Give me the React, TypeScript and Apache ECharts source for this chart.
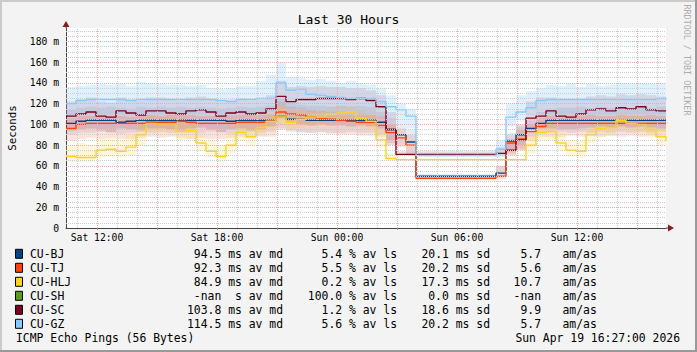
import React, { useEffect, useRef } from 'react';
import * as echarts from 'echarts';

// time grid in hours since Sat 00:00 (Sat 10:27 -> Sun 16:27), half-hour samples
const startHour = 10.45;
const stepHours = 0.5;
const sampleCount = 61;
const endHour = 40.45;

const seriesNames = ['CU-BJ', 'CU-TJ', 'CU-HLJ', 'CU-SH', 'CU-SC', 'CU-GZ'];
const seriesColors = ['#004586', '#ff420e', '#ffd320', '#579d1c', '#7e0021', '#83caff'];

// medians (ms)
const bjMedian = [
  101, 103, 104, 104, 104, 102, 103, 104, 104, 104,
  104, 104, 104, 104, 104, 104, 103, 104, 104, 104,
  104, 108, 105, 105, 104, 104, 104, 104, 104, 104,
  104, 102, 95, 90, 83, 50, 50, 50, 50, 50,
  50, 50, 50, 53, 84, 90, 96, 101, 104, 104,
  104, 104, 104, 104, 104, 104, 104, 104, 104, 104, 104,
];
const tjMedian = [
  96, 100, 101, 101, 101, 101, 101, 101, 102, 102,
  102, 103, 102, 101, 101, 101, 101, 102, 102, 102,
  103, 112, 110, 109, 107, 106, 105, 104, 103, 102,
  102, 99, 92, 87, 80, 48, 48, 48, 48, 48,
  48, 48, 48, 50, 82, 86, 93, 98, 101, 101,
  101, 101, 101, 101, 101, 101, 101, 101, 101, 101, 101,
];
const hljMedian = [
  69, 68, 68, 75, 76, 74, 78, 90, 101, 100,
  100, 93, 94, 82, 74, 69, 80, 92, 88, 97,
  103, 108, 102, 105, 107, 107, 110, 111, 112, 106,
  103, 85, 67, 66, 66, 66, 66, 66, 66, 66,
  66, 66, 66, 66, 66, 66, 80, 92, 93, 82,
  75, 74, 90, 96, 97, 104, 101, 100, 95, 88, 84,
];
const scMedian = [
  108, 110, 112, 108, 107, 113, 111, 109, 113, 113,
  111, 110, 113, 114, 112, 108, 111, 112, 110, 111,
  115, 127, 122, 124, 124, 125, 125, 125, 124, 125,
  123, 117, 95, 71, 71, 71, 71, 71, 71, 71,
  71, 71, 71, 72, 75, 85, 106, 108, 113, 108,
  107, 110, 114, 115, 113, 116, 115, 117, 114, 113, 113,
];
const gzMedian = [
  120, 123, 124, 124, 124, 124, 123, 124, 124, 124,
  124, 124, 124, 124, 124, 123, 122, 124, 124, 125,
  125, 140, 133, 134, 129, 128, 127, 126, 125, 125,
  125, 122, 117, 114, 108, 70, 70, 70, 70, 70,
  70, 70, 70, 76, 107, 112, 116, 123, 124, 124,
  124, 124, 124, 124, 124, 124, 124, 124, 124, 125, 124,
];

// smoke (spread of pings), low and high edges (ms)
const bjLow = [
  90, 92, 92, 93, 92, 91, 92, 93, 92, 93,
  92, 93, 92, 92, 93, 92, 91, 92, 93, 92,
  93, 96, 93, 92, 92, 93, 92, 92, 93, 92,
  92, 90, 85, 80, 74, 49, 49, 49, 49, 49,
  49, 49, 49, 50, 74, 80, 88, 92, 93, 93,
  92, 93, 92, 93, 92, 93, 92, 93, 92, 93, 93,
];
const bjHigh = [
  114, 116, 117, 116, 117, 116, 115, 117, 116, 117,
  116, 117, 116, 117, 116, 115, 116, 117, 116, 117,
  118, 125, 120, 119, 118, 118, 117, 118, 117, 118,
  117, 112, 106, 100, 95, 52, 52, 52, 52, 52,
  52, 52, 52, 60, 92, 98, 104, 112, 115, 116,
  116, 117, 116, 117, 116, 117, 116, 117, 116, 117, 117,
];
const tjLow = [
  84, 86, 87, 86, 87, 86, 86, 87, 88, 87,
  88, 87, 86, 87, 86, 86, 87, 88, 87, 88,
  88, 95, 94, 93, 92, 92, 91, 90, 90, 89,
  89, 88, 82, 78, 70, 47, 47, 47, 47, 47,
  47, 47, 47, 47, 72, 76, 84, 88, 88, 88,
  89, 88, 89, 88, 89, 88, 89, 88, 89, 88, 88,
];
const tjHigh = [
  106, 108, 108, 107, 108, 108, 107, 108, 109, 108,
  109, 110, 109, 108, 108, 107, 108, 109, 109, 109,
  110, 122, 117, 116, 114, 113, 112, 111, 110, 110,
  109, 108, 100, 96, 90, 50, 50, 50, 50, 50,
  50, 50, 50, 60, 90, 95, 100, 106, 108, 108,
  108, 108, 109, 108, 108, 109, 108, 108, 109, 108, 108,
];
const hljLow = [
  64, 64, 64, 68, 69, 68, 70, 80, 93, 92,
  92, 85, 86, 74, 68, 64, 72, 84, 80, 89,
  95, 100, 95, 97, 99, 99, 102, 103, 104, 98,
  95, 78, 65, 65, 65, 65, 65, 65, 65, 65,
  65, 65, 65, 65, 65, 65, 72, 84, 85, 75,
  69, 68, 82, 88, 89, 96, 93, 92, 87, 80, 78,
];
const hljHigh = [
  80, 82, 80, 86, 88, 85, 90, 100, 108, 107,
  107, 102, 103, 92, 85, 80, 90, 101, 98, 106,
  110, 118, 110, 112, 114, 114, 117, 118, 119, 114,
  111, 95, 72, 67, 67, 67, 67, 67, 67, 67,
  67, 67, 67, 67, 67, 67, 90, 100, 101, 92,
  85, 84, 99, 104, 105, 111, 109, 108, 104, 97, 94,
];
const scLow = [
  94, 95, 96, 94, 93, 96, 95, 94, 96, 96,
  95, 94, 96, 97, 95, 93, 95, 96, 94, 95,
  98, 106, 102, 100, 99, 100, 99, 99, 98, 99,
  98, 96, 80, 70, 70, 70, 70, 70, 70, 70,
  70, 70, 70, 70, 70, 75, 95, 96, 96, 95,
  95, 96, 97, 98, 97, 98, 97, 98, 97, 96, 96,
];
const scHigh = [
  122, 124, 126, 122, 121, 126, 124, 123, 126, 126,
  124, 123, 126, 127, 125, 122, 124, 125, 123, 124,
  128, 142, 136, 137, 136, 137, 136, 136, 135, 135,
  133, 128, 112, 74, 74, 74, 74, 74, 74, 74,
  74, 74, 74, 78, 86, 100, 122, 126, 126, 124,
  124, 125, 127, 128, 127, 129, 128, 129, 128, 127, 127,
];
const gzLow = [
  108, 110, 110, 110, 110, 110, 109, 110, 110, 110,
  110, 110, 110, 110, 110, 109, 108, 110, 110, 111,
  112, 118, 114, 114, 112, 112, 111, 110, 110, 110,
  110, 108, 104, 100, 96, 69, 69, 69, 69, 69,
  69, 69, 69, 68, 98, 104, 108, 110, 110, 110,
  110, 110, 110, 110, 110, 110, 110, 110, 110, 110, 110,
];
const gzHigh = [
  136, 137, 138, 139, 138, 139, 137, 141, 140, 139,
  138, 138, 137, 138, 135, 134, 135, 137, 137, 142,
  148, 160, 146, 145, 143, 144, 142, 140, 142, 140,
  138, 135, 128, 120, 115, 72, 72, 72, 72, 72,
  72, 72, 72, 85, 120, 128, 132, 135, 138, 137,
  140, 136, 139, 137, 138, 140, 139, 140, 139, 140, 138,
];

// legend statistics
const avgValues = ['94.5', '92.3', '84.9', '-nan', '103.8', '114.5'];
const avgUnits = ['ms', 'ms', 'ms', ' s', 'ms', 'ms'];
const lossValues = ['5.4', '5.5', '0.2', '100.0', '1.2', '5.6'];
const sdValues = ['20.1', '20.2', '17.3', '0.0', '18.6', '20.2'];
const amValues = ['5.7', '5.6', '10.7', '-nan', '9.9', '5.7'];

// axis ticks
const tickHours = [12, 18, 24, 30, 36];
const tickLabels = ['Sat 12:00', 'Sat 18:00', 'Sun 00:00', 'Sun 06:00', 'Sun 12:00'];
const minorGridHours = [11, 13, 14, 16, 17, 19, 20, 22, 23, 25, 26, 28, 29, 31, 32, 34, 35, 37, 38, 40];
const majorGridHours = [12, 15, 18, 21, 24, 27, 30, 33, 36, 39];
const minorGridMs = [5, 10, 15, 25, 30, 35, 45, 50, 55, 65, 70, 75, 85, 90, 95, 105, 110, 115, 125, 130, 135, 145, 150, 155, 165, 170, 175, 185, 190];
const majorGridMs = [20, 40, 60, 80, 100, 120, 140, 160, 180];

const titleText = 'Last 30 Hours';
const yTitle = 'Seconds';
const footerLeft = 'ICMP Echo Pings (56 Bytes)';
const footerRight = 'Sun Apr 19 16:27:00 2026';
const vendorText = 'RRDTOOL / TOBI OETIKER';

const MONO = "'DejaVu Sans Mono', monospace";

const times = Array.from({ length: sampleCount }, (_, i) => +(startHour + i * stepHours).toFixed(2));

const medians: (number[] | null)[] = [bjMedian, tjMedian, hljMedian, null, scMedian, gzMedian];
const lows: (number[] | null)[] = [bjLow, tjLow, hljLow, null, scLow, gzLow];
const highs: (number[] | null)[] = [bjHigh, tjHigh, hljHigh, null, scHigh, gzHigh];
const smokeAlpha = [0.1, 0.15, 0.18, 0, 0.14, 0.26];

function bandSeries(idx: number) {
  const lo = lows[idx] as number[];
  const hi = highs[idx] as number[];
  const fill = echarts.color.modifyAlpha(seriesColors[idx], smokeAlpha[idx]);
  return {
    type: 'custom',
    name: seriesNames[idx] + ' smoke',
    silent: true,
    z: 2,
    data: [[startHour, 0]],
    renderItem: (_params: any, api: any) => {
      const pts: number[][] = [];
      for (let k = 0; k < times.length - 1; k++) {
        pts.push(api.coord([times[k], hi[k]]));
        pts.push(api.coord([times[k + 1], hi[k]]));
      }
      for (let k = times.length - 2; k >= 0; k--) {
        pts.push(api.coord([times[k + 1], lo[k]]));
        pts.push(api.coord([times[k], lo[k]]));
      }
      return { type: 'polygon', shape: { points: pts }, style: { fill, stroke: null } };
    },
  };
}

function medianSeries(idx: number) {
  const vals = medians[idx] as number[];
  return {
    type: 'line',
    name: seriesNames[idx],
    step: 'end',
    showSymbol: false,
    symbol: 'none',
    silent: true,
    z: 3,
    data: times.map((t, i) => [t, vals[i]]),
    lineStyle: { color: seriesColors[idx], width: 1.4 },
  };
}

const GRID_LEFT = 66;
const GRID_TOP = 28;
const GRID_W = 600;
const GRID_H = 200;

export default function App() {
  const ref = useRef<HTMLDivElement>(null);

  useEffect(() => {
    document.body.style.margin = '0';
    const chart = echarts.init(ref.current as HTMLDivElement, undefined, { renderer: 'svg' });

    const active = [0, 1, 2, 4, 5];
    const series: any[] = [
      {
        type: 'line',
        name: 'grid-minor',
        data: [],
        silent: true,
        z: 1,
        markLine: {
          silent: true,
          animation: false,
          symbol: ['none', 'none'],
          label: { show: false },
          lineStyle: { color: '#cccccc', type: [1, 1], width: 1 },
          data: [
            ...minorGridHours.map((h) => ({ xAxis: h })),
            ...minorGridMs.map((v) => ({ yAxis: v })),
          ],
        },
      },
      {
        type: 'line',
        name: 'grid-major',
        data: [],
        silent: true,
        z: 1,
        markLine: {
          silent: true,
          animation: false,
          symbol: ['none', 'none'],
          label: { show: false },
          lineStyle: { color: '#eeaaaa', type: [1, 1], width: 1 },
          data: [
            ...majorGridHours.map((h) => ({ xAxis: h })),
            ...majorGridMs.map((v) => ({ yAxis: v })),
          ],
        },
      },
      ...active.map((i) => bandSeries(i)),
      ...active.map((i) => medianSeries(i)),
    ];

    const graphics: any[] = [];
    // frame
    graphics.push({ type: 'rect', shape: { x: 0, y: 0, width: 697, height: 2 }, style: { fill: '#cbcbcb' }, silent: true });
    graphics.push({ type: 'rect', shape: { x: 0, y: 0, width: 2, height: 352 }, style: { fill: '#cbcbcb' }, silent: true });
    graphics.push({ type: 'rect', shape: { x: 0, y: 350, width: 697, height: 2 }, style: { fill: '#999999' }, silent: true });
    graphics.push({ type: 'rect', shape: { x: 695, y: 0, width: 2, height: 352 }, style: { fill: '#999999' }, silent: true });
    // title
    graphics.push({
      type: 'text', x: 348.5, y: 19,
      style: { text: titleText, fontFamily: MONO, fontSize: 13, fill: '#000', align: 'center', verticalAlign: 'middle' },
    });
    // y axis title
    graphics.push({
      type: 'text', x: 12, y: 128, rotation: Math.PI / 2,
      style: { text: yTitle, fontFamily: MONO, fontSize: 10.8, fill: '#000', align: 'center', verticalAlign: 'middle' },
    });
    // vendor
    graphics.push({
      type: 'text', x: 687, y: 60, rotation: -Math.PI / 2,
      style: { text: vendorText, fontFamily: MONO, fontSize: 8.4, fill: '#adadad', align: 'center', verticalAlign: 'middle' },
    });
    // axis extensions + arrows
    graphics.push({ type: 'line', shape: { x1: GRID_LEFT, y1: GRID_TOP, x2: GRID_LEFT, y2: 25 }, style: { stroke: '#444', lineWidth: 1 } });
    graphics.push({ type: 'polygon', shape: { points: [[GRID_LEFT - 3.5, 27], [GRID_LEFT + 3.5, 27], [GRID_LEFT, 21]] }, style: { fill: '#8b1c1c' } });
    graphics.push({ type: 'line', shape: { x1: GRID_LEFT + GRID_W, y1: GRID_TOP + GRID_H, x2: 669, y2: GRID_TOP + GRID_H }, style: { stroke: '#444', lineWidth: 1 } });
    graphics.push({ type: 'polygon', shape: { points: [[668, GRID_TOP + GRID_H - 3.5], [668, GRID_TOP + GRID_H + 3.5], [674, GRID_TOP + GRID_H]] }, style: { fill: '#8b1c1c' } });

    // legend
    const legendTop = 253.8;
    const rowH = 14;
    const fs = 11.4;
    seriesNames.forEach((name, i) => {
      const y = legendTop + i * rowH;
      graphics.push({ type: 'rect', shape: { x: 15.5, y: y - 4.5, width: 7, height: 9 }, style: { fill: seriesColors[i], stroke: '#000', lineWidth: 1 } });
      const txt = (text: string, x: number, align: string) => ({
        type: 'text', x, y,
        style: { text, fontFamily: MONO, fontSize: fs, fill: '#000', align, verticalAlign: 'middle' },
      });
      graphics.push(txt(name, 30, 'left'));
      graphics.push(txt(`${avgValues[i]} ${avgUnits[i]} av md`, 283, 'right'));
      graphics.push(txt(`${lossValues[i]} % av ls`, 397, 'right'));
      graphics.push(txt(`${sdValues[i]} ms sd`, 490, 'right'));
      graphics.push(txt(amValues[i], 541, 'right'));
      graphics.push(txt('am/as', 562.5, 'left'));
    });
    const footY = legendTop + 6 * rowH;
    graphics.push({ type: 'text', x: 16, y: footY, style: { text: footerLeft, fontFamily: MONO, fontSize: fs, fill: '#000', align: 'left', verticalAlign: 'middle' } });
    graphics.push({ type: 'text', x: 680, y: footY, style: { text: footerRight, fontFamily: MONO, fontSize: fs, fill: '#000', align: 'right', verticalAlign: 'middle' } });

    chart.setOption({
      animation: false,
      backgroundColor: '#f3f3f3',
      textStyle: { fontFamily: MONO },
      grid: {
        left: GRID_LEFT, top: GRID_TOP, width: GRID_W, height: GRID_H,
        show: true, backgroundColor: '#ffffff', borderWidth: 0,
        containLabel: false,
      },
      xAxis: {
        type: 'value',
        min: startHour,
        max: endHour,
        axisLine: { show: true, lineStyle: { color: '#444', width: 1 } },
        axisTick: { show: true, length: 2, customValues: majorGridHours, lineStyle: { color: '#d08080' } },
        axisLabel: {
          show: true,
          customValues: tickHours,
          margin: 4,
          fontFamily: MONO,
          fontSize: 9.7,
          color: '#000',
          formatter: (v: number) => {
            const i = tickHours.indexOf(Math.round(v * 100) / 100);
            return i >= 0 ? tickLabels[i] : '';
          },
        },
        splitLine: { show: false },
      },
      yAxis: {
        type: 'value',
        min: 0,
        max: 193,
        interval: 20,
        axisLine: { show: true, lineStyle: { color: '#444', width: 1 } },
        axisTick: { show: false },
        axisLabel: {
          margin: 7,
          fontFamily: MONO,
          fontSize: 9.7,
          color: '#000',
          showMaxLabel: false,
          formatter: (v: number) => (v === 0 ? '0' : v % 20 === 0 ? `${v} m` : ''),
        },
        splitLine: { show: false },
      },
      series,
      graphic: graphics,
    });

    return () => chart.dispose();
  }, []);

  return <div ref={ref} style={{ width: 697, height: 352 }} />;
}
